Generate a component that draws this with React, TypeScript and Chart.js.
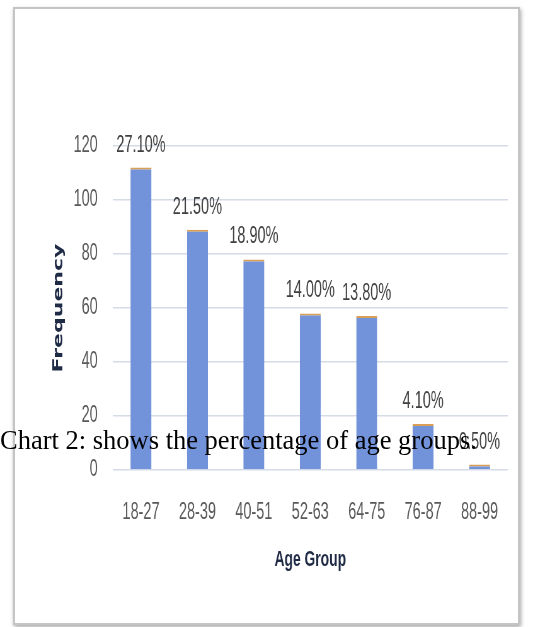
import React, { useEffect, useRef } from "react";
import { Chart, registerables } from "chart.js";

Chart.register(...registerables);

const categories = ["18-27", "28-39", "40-51", "52-63", "64-75", "76-87", "88-99"];
const frequencies = [112, 89, 78, 58, 57, 17, 2];
const percentLabels = ["27.10%", "21.50%", "18.90%", "14.00%", "13.80%", "4.10%", "0.50%"];
const yTicks = [0, 20, 40, 60, 80, 100, 120];

// The reference image is horizontally compressed; we render on a wider canvas
// and squeeze it with a CSS transform so the text looks tall and narrow.
const SQUEEZE = 0.63;
const CANVAS_W = Math.round(540 / SQUEEZE);
const CANVAS_H = 627;

const SANS = "'Liberation Sans', Arial, sans-serif";

const labelPlugin = {
  id: "pctLabels",
  afterDatasetsDraw(chart: any) {
    const ctx = chart.ctx;
    const meta = chart.getDatasetMeta(0);
    ctx.save();
    ctx.font = `23px ${SANS}`;
    ctx.fillStyle = "#404040";
    ctx.textAlign = "center";
    ctx.textBaseline = "alphabetic";
    meta.data.forEach((bar: any, i: number) => {
      ctx.fillText(percentLabels[i], bar.x, bar.y - 16);
    });
    ctx.restore();
  },
};

export default function App() {
  const ref = useRef<HTMLCanvasElement | null>(null);

  useEffect(() => {
    if (!ref.current) return;
    const chart = new Chart(ref.current, {
      type: "bar",
      data: {
        labels: categories,
        datasets: [
          {
            data: frequencies,
            backgroundColor: "#7292da",
            borderColor: "#d9a055",
            borderWidth: { top: 2, left: 0, right: 0, bottom: 0 },
            borderSkipped: "bottom",
            categoryPercentage: 1,
            barPercentage: 0.372,
          },
        ],
      },
      options: {
        animation: false,
        responsive: false,
        maintainAspectRatio: false,
        devicePixelRatio: 1,
        layout: { padding: { left: 55, right: 51, top: 146, bottom: 40 } },
        plugins: { legend: { display: false }, tooltip: { enabled: false } },
        scales: {
          x: {
            grid: { display: false, drawTicks: false },
            border: { display: false },
            ticks: { color: "#595959", font: { family: SANS, size: 23 }, padding: 29 },
            title: {
              display: true,
              text: "Age Group",
              color: "#1f2a44",
              font: { family: SANS, size: 22, weight: "bold" },
              padding: { top: 0, bottom: 14 },
            },
            afterFit: (s: any) => {
              s.height = 117;
            },
          },
          y: {
            min: 0,
            max: 120,
            afterBuildTicks: (s: any) => {
              s.ticks = yTicks.map((v) => ({ value: v }));
            },
            grid: { color: "#d5dce8", lineWidth: 1.5, drawTicks: false },
            border: { display: false },
            ticks: { color: "#595959", font: { family: SANS, size: 23 }, padding: 24 },
            title: {
              display: true,
              text: "Frequency",
              color: "#1f2a44",
              font: { family: "'DejaVu Sans', Verdana, sans-serif", size: 22, weight: "bold" },
              padding: { top: 25, bottom: 0 },
            },
            afterFit: (s: any) => {
              s.width = 124;
            },
          },
        },
      },
      plugins: [labelPlugin],
    });
    return () => chart.destroy();
  }, []);

  return (
    <div style={{ position: "fixed", left: 0, top: 0, width: 540, height: 627, background: "#fff", overflow: "hidden" }}>
      <div
        style={{
          position: "absolute",
          left: 13,
          top: 7,
          width: 503,
          height: 614,
          border: "2px solid #c4c4c4",
          boxShadow: "1px 2px 4px rgba(0,0,0,0.35)",
          background: "#fff",
        }}
      />
      <canvas
        ref={ref}
        width={CANVAS_W}
        height={CANVAS_H}
        style={{
          position: "absolute",
          left: 0,
          top: 0,
          width: CANVAS_W,
          height: CANVAS_H,
          transform: `scaleX(${SQUEEZE})`,
          transformOrigin: "0 0",
        }}
      />
      <div
        style={{
          position: "absolute",
          left: 0,
          top: 427,
          fontFamily: "'Liberation Serif', 'Times New Roman', serif",
          fontSize: 26.5,
          lineHeight: "26px",
          color: "#000",
          whiteSpace: "nowrap",
        }}
      >
        Chart 2: shows the percentage of age groups.
      </div>
    </div>
  );
}
